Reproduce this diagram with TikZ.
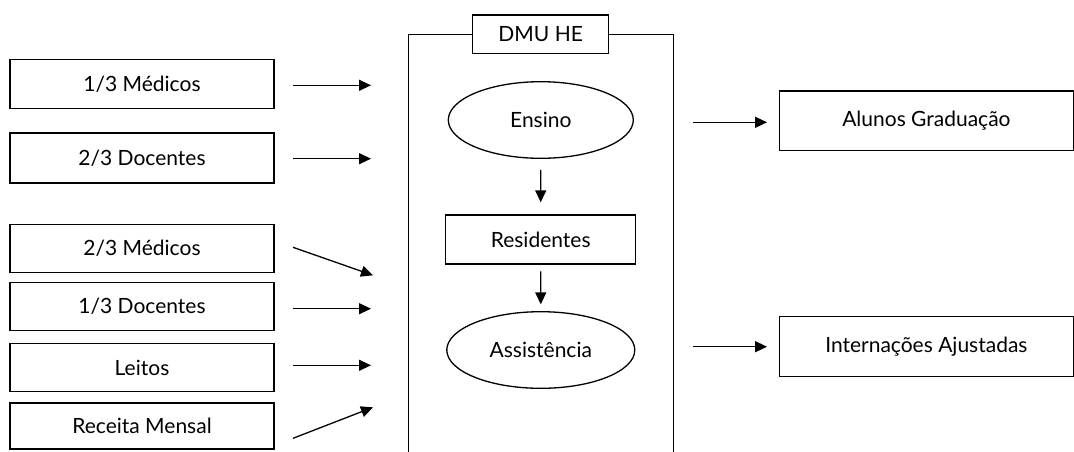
\documentclass[tikz,border=0pt]{standalone}
\usepackage{fontspec}
\setmainfont{Lato}
\usetikzlibrary{arrows.meta,shapes.geometric}
\begin{document}
\begin{tikzpicture}[x=1pt,y=-1pt,
  every node/.style={font=\fontsize{21}{24}\selectfont, inner sep=0pt},
  box/.style={draw, line width=1.3pt, rectangle, minimum width=264pt},
  oval/.style={draw, line width=1.3pt, ellipse},
  arr/.style={line width=1.3pt, -{Triangle[length=12pt,width=11pt]}}]
\useasboundingbox (0,0) rectangle (1074,451);
% left input boxes
\node[box, minimum height=49pt] (m13) at (142,84) {1/3 Médicos};
\node[box, minimum height=50pt] (d23) at (142,158) {2/3 Docentes};
\node[box, minimum height=48.5pt] (m23) at (142,248.5) {2/3 Médicos};
\node[box, minimum height=48pt] (d13) at (142,306.7) {1/3 Docentes};
\node[box, minimum height=48.4pt] (lei) at (142,367.5) {Leitos};
\node[box, minimum height=46pt] (rec) at (142,426) {Receita Mensal};
% big DMU frame
\node[box, minimum width=136pt, minimum height=38.3pt] (dmu) at (540.7,34.2) {DMU HE};
\draw[line width=1.3pt] (dmu.west) -- (408.3,34.2) -- (408.3,452);
\draw[line width=1.3pt] (dmu.east) -- (673.3,34.2) -- (673.3,452);
% inner nodes
\node[oval, minimum width=185pt, minimum height=76.6pt] (ens) at (540.8,120) {Ensino};
\node[box, minimum width=190pt, minimum height=49pt] (res) at (540.7,239.5) {Residentes};
\node[oval, minimum width=188pt, minimum height=76.6pt] (ass) at (540.8,350) {Assistência};
\draw[arr, shorten <=11pt, shorten >=12pt] (ens.south) -- (res.north);
\draw[arr, shorten <=6.7pt, shorten >=6.7pt] (res.south) -- (ass.north);
% right output boxes
\node[box, minimum width=294.2pt, minimum height=59.7pt] (alu) at (926.4,120.9) {Alunos Graduação};
\node[box, minimum width=294.2pt, minimum height=60pt] (int) at (926.4,346.7) {Internações Ajustadas};
% input arrows
\coordinate (a1s) at (293,85.3);   \coordinate (a1e) at (371,85.3);
\coordinate (a2s) at (293,158.7);  \coordinate (a2e) at (371,158.7);
\coordinate (a3s) at (293,247.3);  \coordinate (a3e) at (373,275.3);
\coordinate (a4s) at (293,308.7);  \coordinate (a4e) at (371,308.7);
\coordinate (a5s) at (293,365.3);  \coordinate (a5e) at (371,365.3);
\coordinate (a6s) at (293,438.3);  \coordinate (a6e) at (373,407.3);
\draw[arr] (a1s) -- (a1e);
\draw[arr] (a2s) -- (a2e);
\draw[arr] (a3s) -- (a3e);
\draw[arr] (a4s) -- (a4e);
\draw[arr] (a5s) -- (a5e);
\draw[arr] (a6s) -- (a6e);
% output arrows
\coordinate (o1s) at (693.3,122.3);
\coordinate (o2s) at (693.3,346.7);
\draw[arr, shorten >=11.6pt] (o1s) -- (alu.west |- o1s);
\draw[arr, shorten >=11.6pt] (o2s) -- (int.west |- o2s);
\end{tikzpicture}
\end{document}
